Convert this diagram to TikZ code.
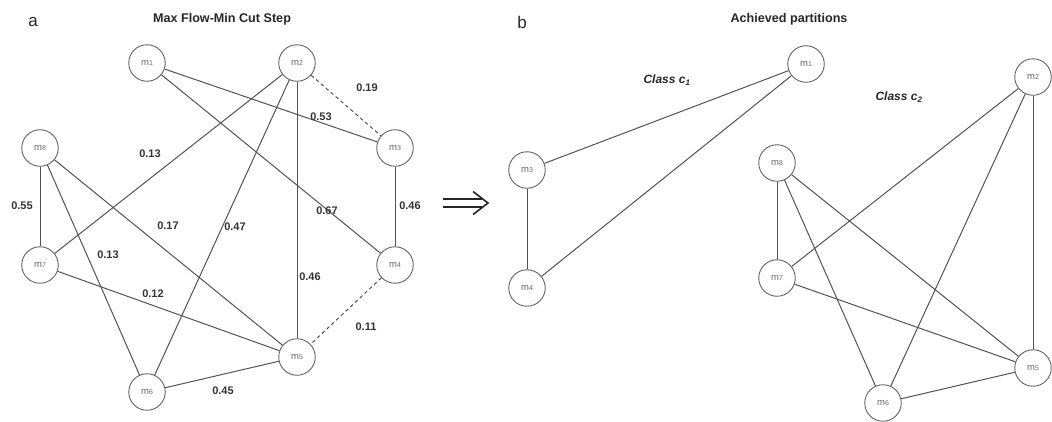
\documentclass[tikz,border=0pt]{standalone}
\usepackage{fontspec}
\setmainfont{Liberation Sans}
\newcommand\mlab[1]{m\raisebox{0pt}{\fontsize{7}{7}\selectfont #1}}
\begin{document}
\begin{tikzpicture}[x=1pt,y=-1pt,
  mnode/.style={circle,draw=black!62,line width=0.9pt,minimum size=36.5pt,inner sep=0pt,fill=white,text=black!60,font=\fontsize{9.5}{10}\selectfont},
  edge/.style={draw=black!68,line width=1pt},
  cut/.style={edge,dash pattern=on 3.5pt off 3pt},
  wlab/.style={font=\bfseries\fontsize{11}{12}\selectfont,text=black!80,inner sep=0pt},
  title/.style={font=\bfseries\fontsize{12.6}{14}\selectfont,text=black!85,inner sep=0pt},
  panel/.style={font=\fontsize{17}{18}\selectfont,text=black!85,inner sep=0pt},
  classlab/.style={font=\bfseries\itshape\fontsize{12}{14}\selectfont,text=black!85,inner sep=0pt},
]
\useasboundingbox (0,0) rectangle (1052,421);

% ---------- panel a ----------
\node[panel] (pa) at (33,22) {a};
\node[title] (ta) at (222,19) {Max Flow-Min Cut Step};

\node[mnode] (a1) at (147,63) {\mlab{1}};
\node[mnode] (a2) at (297,63) {\mlab{2}};
\node[mnode] (a3) at (395,148) {\mlab{3}};
\node[mnode] (a4) at (395,265) {\mlab{4}};
\node[mnode] (a5) at (297,357) {\mlab{5}};
\node[mnode] (a6) at (147,392) {\mlab{6}};
\node[mnode] (a7) at (40,265) {\mlab{7}};
\node[mnode] (a8) at (40,148) {\mlab{8}};

\draw[edge] (a1) -- (a3);
\draw[edge] (a1) -- (a4);
\draw[cut] (a2) -- (a3);
\draw[edge] (a2) -- (a7);
\draw[edge] (a2) -- (a6);
\draw[edge] (a2) -- (a5);
\draw[edge] (a3) -- (a4);
\draw[edge] (a8) -- (a7);
\draw[edge] (a8) -- (a6);
\draw[edge] (a8) -- (a5);
\draw[edge] (a7) -- (a5);
\draw[cut] (a4) -- (a5);
\draw[edge] (a6) -- (a5);

\node[wlab] (w19) at (367,88) {0.19};
\node[wlab] (w53) at (321,117) {0.53};
\node[wlab] (w13a) at (150,154) {0.13};
\node[wlab] (w67) at (327,211) {0.67};
\node[wlab] (w46a) at (410,206) {0.46};
\node[wlab] (w55) at (22,206) {0.55};
\node[wlab] (w17) at (168,226) {0.17};
\node[wlab] (w47) at (235,227) {0.47};
\node[wlab] (w13b) at (108,255) {0.13};
\node[wlab] (w46b) at (310,277) {0.46};
\node[wlab] (w12) at (153,294) {0.12};
\node[wlab] (w11) at (366,327) {0.11};
\node[wlab] (w45) at (223,391) {0.45};

% ---------- arrow ----------
\draw[line width=1.6pt,black!85] (443,199) -- (482,199);
\draw[line width=1.6pt,black!85] (443,207) -- (482,207);
\draw[line width=1.6pt,black!85,line join=miter] (473,191.5) -- (488,203) -- (473,214.5);

% ---------- panel b ----------
\node[panel] (pb) at (522,22) {b};
\node[title] (tb) at (789,19) {Achieved partitions};
\node[classlab] (c1) at (667,80) {Class c\textsubscript{1}};
\node[classlab] (c2) at (899,97) {Class c\textsubscript{2}};

\node[mnode] (b1) at (806,64) {\mlab{1}};
\node[mnode] (b3) at (527,170) {\mlab{3}};
\node[mnode] (b4) at (527,288) {\mlab{4}};
\node[mnode] (b2) at (1033,77) {\mlab{2}};
\node[mnode] (b8) at (777,163) {\mlab{8}};
\node[mnode] (b7) at (777,278) {\mlab{7}};
\node[mnode] (b5) at (1033,368) {\mlab{5}};
\node[mnode] (b6) at (883,403) {\mlab{6}};

\draw[edge] (b1) -- (b3);
\draw[edge] (b1) -- (b4);
\draw[edge] (b3) -- (b4);
\draw[edge] (b2) -- (b7);
\draw[edge] (b2) -- (b6);
\draw[edge] (b2) -- (b5);
\draw[edge] (b8) -- (b7);
\draw[edge] (b8) -- (b6);
\draw[edge] (b8) -- (b5);
\draw[edge] (b7) -- (b5);
\draw[edge] (b6) -- (b5);
\end{tikzpicture}
\end{document}
